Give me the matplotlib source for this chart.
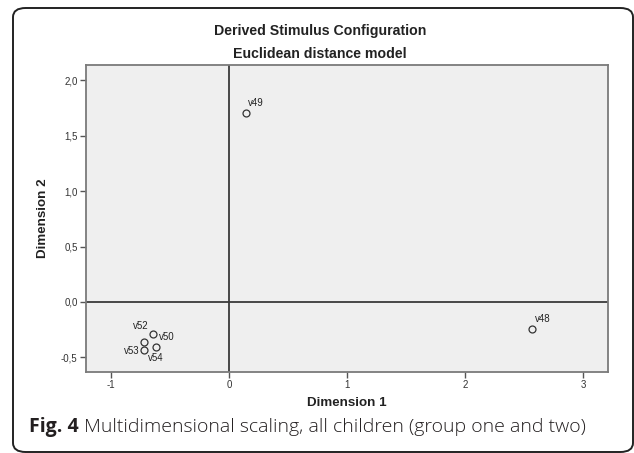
import matplotlib
matplotlib.use("Agg")
import matplotlib.pyplot as plt
from matplotlib.patches import FancyBboxPatch

# MDS stimulus coordinates
labels = ["v48", "v49", "v50", "v52", "v53", "v54"]
dim1 = [2.57, 0.14, -0.64, -0.72, -0.72, -0.62]
dim2 = [-0.24, 1.71, -0.29, -0.36, -0.43, -0.41]

xticks = [-1, 0, 1, 2, 3]
yticks = [-0.5, 0.0, 0.5, 1.0, 1.5, 2.0]

# where each label sits relative to its marker (pixels, ha)
label_pos = {
    "v48": (2.5, 9.5, "left"),
    "v49": (2.5, 9.5, "left"),
    "v50": (5, -3, "left"),
    "v52": (-3, 16, "center"),
    "v53": (-4, -1, "right"),
    "v54": (0, -11, "center"),
}

plt.rcParams['font.family'] = ['Liberation Sans', 'DejaVu Sans']

fig = plt.figure(figsize=(6.34, 4.53), dpi=100)
fig.patch.set_facecolor("white")

# rounded frame around the whole figure
frame = FancyBboxPatch((13 / 634, 1 - 452 / 453), (633 - 13) / 634, (452 - 8) / 453,
                       boxstyle="round,pad=0,rounding_size=0.02",
                       transform=fig.transFigure, fill=False,
                       edgecolor="#222222", linewidth=1.4, clip_on=False)
fig.patches.append(frame)

ax = fig.add_axes([86 / 634, 1 - 372 / 453, (608 - 86) / 634, (372 - 65) / 453])
ax.set_facecolor("#efefef")
ax.set_xlim(-1.212, 3.212)
ax.set_ylim(-0.632, 2.139)

ax.axvline(0, color="#3a3a3a", lw=1.3, zorder=1)
ax.axhline(0, color="#3a3a3a", lw=1.3, zorder=1)

ax.plot(dim1, dim2, linestyle="none", marker="o", markersize=5,
        markerfacecolor="none", markeredgecolor="#333333", markeredgewidth=0.9, zorder=3)

for lab, x, y in zip(labels, dim1, dim2):
    dx, dy, ha = label_pos[lab]
    ax.annotate(lab, (x, y), xytext=(dx, dy), textcoords="offset pixels",
                ha=ha, va="center", fontsize=7, color="#222222")

ax.set_xticks(xticks)
ax.set_xticklabels([str(t) for t in xticks])
ax.set_yticks(yticks)
ax.set_yticklabels([("%.1f" % t).replace(".", ",") for t in yticks])
ax.tick_params(direction="out", length=4, width=1, color="#555555",
               labelsize=7, labelcolor="#333333", pad=2)

for s in ax.spines.values():
    s.set_color("#7a7a7a")
    s.set_linewidth(1.3)

fig.text(320 / 634, 1 - 31 / 453, "Derived Stimulus Configuration",
         ha="center", va="center", fontsize=10.2, fontweight="bold", color="#222222")
fig.text(320 / 634, 1 - 54 / 453, "Euclidean distance model",
         ha="center", va="center", fontsize=10.2, fontweight="bold", color="#222222")
fig.text(347 / 634, 1 - 403 / 453, "Dimension 1",
         ha="center", va="center", fontsize=9.6, fontweight="bold", color="#222222")
fig.text(43 / 634, 1 - 218 / 453, "Dimension 2", rotation=90,
         ha="center", va="center", fontsize=9.6, fontweight="bold", color="#222222")

# caption: bold "Fig. 4" followed by regular text
cap1 = fig.text(29 / 634, 1 - 427 / 453, "Fig. 4", ha="left", va="center",
                fontsize=14, fontweight="bold", family="Open Sans", color="#231f20")
fig.canvas.draw()
bb = cap1.get_window_extent().transformed(fig.transFigure.inverted())
fig.text(bb.x1 + 5 / 634, 1 - 427 / 453,
         "Multidimensional scaling, all children (group one and two)",
         ha="left", va="center", fontsize=14, fontweight="light",
         family="Open Sans", color="#231f20")

fig.savefig("out.png", dpi=100)
